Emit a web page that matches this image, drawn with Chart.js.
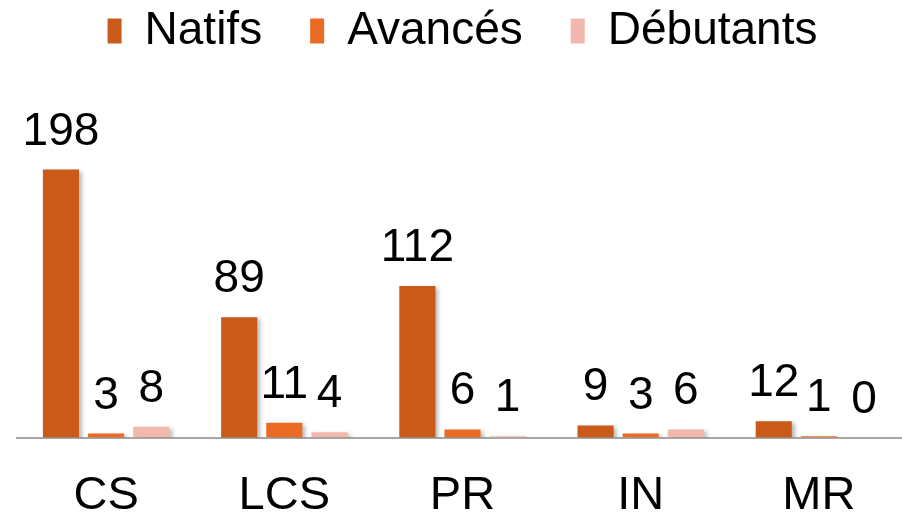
<!DOCTYPE html>
<html>
<head>
<meta charset="utf-8">
<script src="https://cdn.jsdelivr.net/npm/chart.js@4"></script>
<style>
  html, body { margin: 0; padding: 0; background: #fff; overflow: hidden; width: 902px; height: 518px; }
  #wrap { position: absolute; left: 0; top: -40px; width: 920px; height: 594px; }
</style>
</head>
<body>
<div id="wrap"><canvas id="bar-chart"></canvas></div>
<script>
const categories = ["CS", "LCS", "PR", "IN", "MR"];
const natifs = [198, 89, 112, 9, 12];
const avances = [3, 11, 6, 3, 1];
const debutants = [8, 4, 1, 6, 0];

const FONT = "'Liberation Sans', Arial, sans-serif";

// soft shadow under the bars, like the original
const barShadow = {
  id: "barShadow",
  beforeDatasetsDraw(chart) {
    const ctx = chart.ctx;
    ctx.save();
    ctx.shadowColor = "rgba(0,0,0,0.28)";
    ctx.shadowBlur = 4;
    ctx.shadowOffsetX = 3;
    ctx.shadowOffsetY = 2;
  },
  afterDatasetsDraw(chart) {
    chart.ctx.restore();
  },
};

// value labels above each bar
const valueLabels = {
  id: "valueLabels",
  afterDraw(chart) {
    const ctx = chart.ctx;
    ctx.save();
    ctx.font = "46px " + FONT;
    ctx.fillStyle = "#000";
    ctx.textAlign = "center";
    ctx.textBaseline = "alphabetic";
    chart.data.datasets.forEach((ds, i) => {
      const meta = chart.getDatasetMeta(i);
      meta.data.forEach((bar, j) => {
        ctx.fillText(String(ds.data[j]), bar.x, bar.y - 25);
      });
    });
    ctx.restore();
  },
};

const config = {
  type: "bar",
  data: {
    labels: categories,
    datasets: [
      { label: "Natifs", data: natifs, backgroundColor: "#C95A1A" },
      { label: "Avancés", data: avances, backgroundColor: "#EC6B24" },
      { label: "Débutants", data: debutants, backgroundColor: "#F2B8AE" },
    ],
  },
  options: {
    responsive: true,
    maintainAspectRatio: false,
    animation: false,
    devicePixelRatio: 1,
    layout: { padding: { left: 17, right: 12, top: 0, bottom: 0 } },
    datasets: { bar: { categoryPercentage: 0.76, barPercentage: 0.8 } },
    plugins: {
      legend: {
        position: "top",
        labels: {
          color: "#000",
          font: { family: FONT, size: 46 },
          boxWidth: 14,
          boxHeight: 25,
          padding: 48,
        },
      },
      tooltip: { enabled: false },
    },
    scales: {
      x: {
        grid: { display: false, drawTicks: false },
        border: { display: true, color: "#A6A6A6", width: 2 },
        ticks: { color: "#000", font: { family: FONT, size: 47 }, padding: 30 },
      },
      y: { display: false, min: 0, max: 276 },
    },
  },
  plugins: [barShadow, valueLabels],
};

new Chart(document.getElementById("bar-chart").getContext("2d"), config);
</script>
</body>
</html>
